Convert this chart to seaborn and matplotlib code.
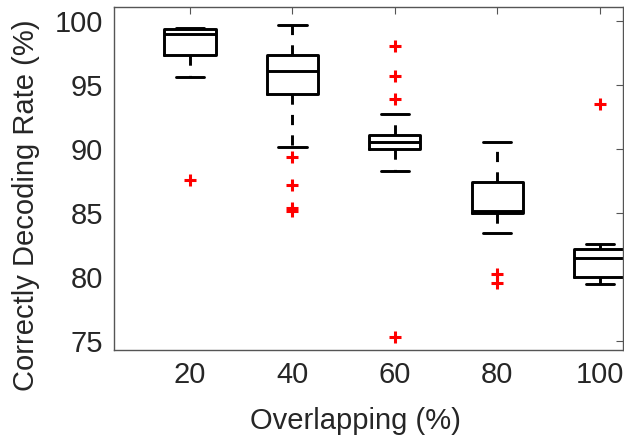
import matplotlib
matplotlib.use("Agg")
import matplotlib.pyplot as plt
import seaborn as sns
import pandas as pd

# box statistics (MATLAB style boxplot)
overlap = [20, 40, 60, 80, 100]
q1 = [97.4, 94.3, 90.0, 85.0, 80.0]
med = [99.0, 96.1, 90.6, 85.2, 81.5]
q3 = [99.4, 97.4, 91.15, 87.45, 82.25]
whis_lo = [95.65, 90.2, 88.3, 83.45, 79.5]
whis_hi = [99.45, 99.7, 92.75, 90.55, 82.6]

# outliers
out_x = [20, 40, 40, 40, 40, 60, 60, 60, 60, 80, 80, 100]
out_y = [87.6, 89.4, 87.2, 85.4, 85.15, 98.1, 95.75, 93.9, 75.35, 80.25, 79.6, 93.55]

sns.set_style("white")
plt.rcParams['font.family'] = ['Liberation Sans', 'DejaVu Sans']

fig = plt.figure(figsize=(6.24, 4.36), dpi=100)
ax = fig.add_axes([0.183, 0.197, 0.815, 0.787])

stats = []
for i in range(len(overlap)):
    stats.append({'med': med[i], 'q1': q1[i], 'q3': q3[i],
                  'whislo': whis_lo[i], 'whishi': whis_hi[i],
                  'fliers': [], 'label': str(overlap[i])})

lw = 2.1
ax.bxp(stats, positions=overlap, widths=10, capwidths=5.5, showfliers=False,
       boxprops=dict(color='black', linewidth=lw),
       medianprops=dict(color='black', linewidth=lw),
       whiskerprops=dict(color='black', linewidth=lw, linestyle=(0, (3.5, 3.5))),
       capprops=dict(color='black', linewidth=lw))

outl = pd.DataFrame({'x': out_x, 'y': out_y})
sns.scatterplot(data=outl, x='x', y='y', marker='+', color='red', s=80,
                linewidth=2.2, ax=ax, zorder=3)

ax.set_xlim(5.2, 104.5)
ax.set_ylim(74.32, 101.12)
ax.set_xticks(overlap)
ax.set_xticklabels([str(v) for v in overlap])
ax.set_yticks([75, 80, 85, 90, 95, 100])

for s in ax.spines.values():
    s.set_color('#555555')
    s.set_linewidth(1.0)
ax.tick_params(direction='in', length=5, width=0.8, color='#555555',
               top=True, right=True, labelsize=21, labelcolor='#262626', pad=8)

ax.set_xlabel('Overlapping (%)', fontsize=21, color='#262626')
ax.set_ylabel('Correctly Decoding Rate (%)', fontsize=21, color='#262626')
ax.xaxis.set_label_coords(0.475, -0.165)
ax.yaxis.set_label_coords(-0.145, 0.423)

fig.savefig('out.png', dpi=100)
